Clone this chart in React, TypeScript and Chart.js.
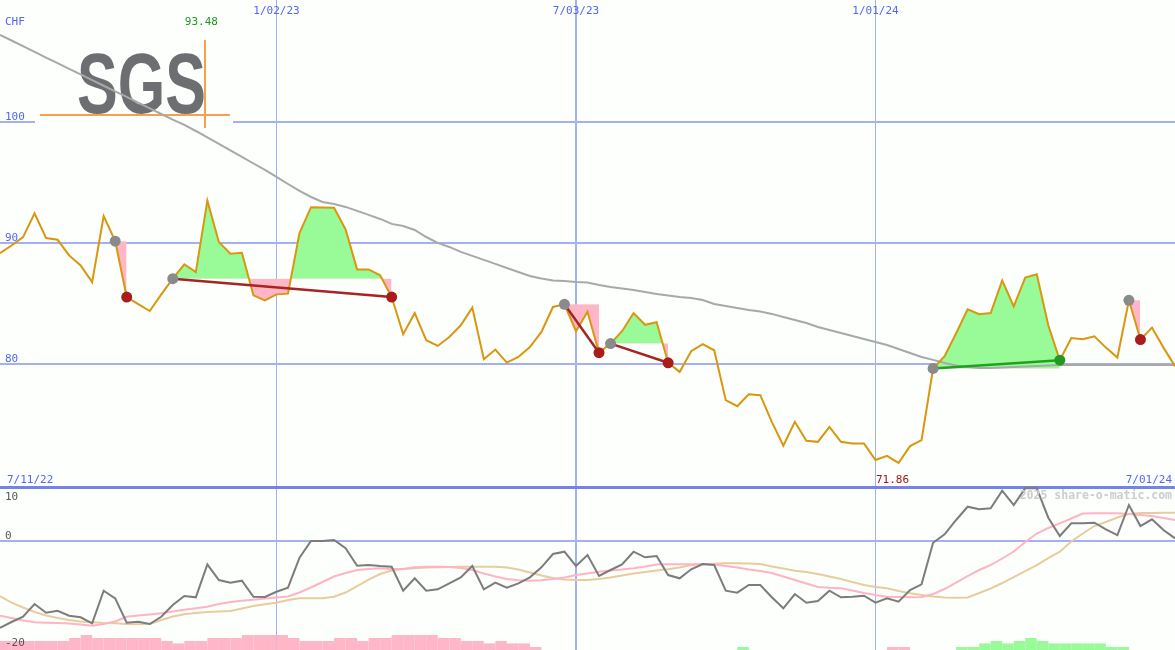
import { useEffect, useRef } from 'react';
import { Chart, registerables } from 'chart.js';

Chart.register(...registerables);

// ---------- data ----------
const dateTicks = [24, 50, 76];
const dateLabels = ['1/02/23', '7/03/23', '1/01/24'];
const startLabel = '7/11/22';
const endLabel = '7/01/24';
const priceTicks = [80, 90, 100];
const oscTicks = [10, 0, -20];
const currency = 'CHF';
const watermark = '2025 share-o-matic.com';
const brand = 'SGS';

// weekly closes, index 0..102
const price = [
  89.16, 89.79, 90.48, 92.45, 90.40, 90.26, 88.97, 88.15, 86.77, 92.21,
  90.15, 85.54, 84.96, 84.39, 85.76, 87.05, 88.23, 87.60, 93.48, 90.07,
  89.11, 89.19, 85.68, 85.27, 85.76, 85.82, 90.82, 92.95, 92.92, 92.90,
  91.11, 87.82, 87.82, 87.33, 85.54, 82.47, 84.22, 81.98, 81.51, 82.25,
  83.21, 84.67, 80.41, 81.21, 80.14, 80.60, 81.42, 82.66, 84.72, 84.94,
  82.72, 84.32, 80.95, 81.70, 82.72, 84.22, 83.25, 83.46, 80.12, 79.37,
  81.07, 81.65, 81.15, 77.04, 76.54, 77.53, 77.45, 75.25, 73.28, 75.25,
  73.69, 73.60, 74.84, 73.60, 73.47, 73.47, 72.10, 72.45, 71.86, 73.25,
  73.74, 79.65, 80.66, 82.55, 84.53, 84.12, 84.22, 86.91, 84.77, 87.14,
  87.41, 83.21, 80.33, 82.16, 82.06, 82.30, 81.37, 80.55, 85.27, 82.03,
  83.02, 81.37, 79.84,
];

const movingAvg = [
  107.15, 106.69, 106.22, 105.75, 105.28, 104.82, 104.35, 103.89, 103.43, 102.96,
  102.50, 102.04, 101.57, 101.10, 100.63, 100.16, 99.73, 99.23, 98.70, 98.16,
  97.63, 97.09, 96.55, 96.02, 95.44, 94.86, 94.29, 93.79, 93.38, 93.21,
  92.97, 92.64, 92.31, 91.98, 91.57, 91.40, 91.07, 90.49, 90.00, 89.67,
  89.26, 88.93, 88.60, 88.27, 87.94, 87.61, 87.28, 87.07, 86.91, 86.87,
  86.78, 86.74, 86.54, 86.37, 86.25, 86.12, 85.96, 85.79, 85.67, 85.55,
  85.47, 85.30, 84.97, 84.81, 84.64, 84.48, 84.35, 84.15, 83.90, 83.65,
  83.40, 83.07, 82.82, 82.58, 82.33, 82.08, 81.84, 81.59, 81.26, 80.93,
  80.60, 80.36, 80.11, 79.90, 79.78, 79.70, 79.70, 79.74, 79.78, 79.82,
  79.86, 79.90, 79.94, 79.94, 79.94, 79.94, 79.94, 79.94, 79.94, 79.94,
  79.94, 79.94, 79.94,
];

const oscillator = [
  -16.21, -15.14, -14.15, -11.78, -13.40, -13.03, -13.96, -14.26, -15.38, -9.29,
  -10.71, -15.27, -15.08, -15.51, -14.15, -11.96, -10.28, -10.52, -4.36, -7.29,
  -7.79, -7.42, -10.41, -10.47, -9.48, -8.73, -3.12, 0.0, 0.0, 0.19,
  -1.36, -4.62, -4.49, -4.67, -4.80, -9.29, -6.97, -9.29, -9.03, -7.91,
  -6.79, -4.67, -9.03, -7.79, -8.73, -7.91, -6.79, -4.92, -2.43, -2.00,
  -4.67, -2.62, -6.54, -5.42, -4.36, -2.00, -3.05, -2.80, -6.36, -6.97,
  -5.29, -4.30, -4.49, -9.29, -9.66, -8.22, -8.22, -10.52, -12.58, -9.91,
  -11.53, -11.21, -9.29, -10.52, -10.41, -10.22, -11.53, -10.71, -11.35, -9.16,
  -8.09, -0.32, 1.25, 3.93, 6.41, 5.93, 6.11, 9.40, 6.73, 9.85,
  9.85, 4.36, 0.93, 3.31, 3.31, 3.42, 2.19, 1.12, 6.73, 2.80,
  4.06, 2.06, 0.50,
];

const signalFast = [
  -13.96, -14.39, -14.86, -15.20, -15.27, -15.33, -15.42, -15.61, -15.83, -15.51,
  -15.05, -14.15, -13.93, -13.74, -13.51, -13.18, -12.86, -12.58, -12.28, -11.78,
  -11.40, -11.16, -10.97, -10.75, -10.56, -10.37, -9.63, -8.69, -7.66, -6.64,
  -5.98, -5.42, -5.23, -5.10, -5.23, -5.23, -4.92, -4.80, -4.80, -4.86,
  -5.05, -5.42, -6.07, -6.64, -7.10, -7.35, -7.42, -7.35, -7.10, -6.82,
  -6.36, -6.07, -5.74, -5.51, -5.33, -5.10, -4.77, -4.39, -4.36, -4.36,
  -4.36, -4.36, -4.39, -4.67, -4.95, -5.33, -5.61, -5.98, -6.64, -7.29,
  -7.94, -8.60, -8.75, -8.84, -9.25, -9.72, -10.09, -10.41, -10.47, -10.52,
  -10.47, -9.91, -8.97, -7.76, -6.54, -5.42, -4.49, -3.27, -1.96, -0.19,
  1.40, 2.43, 3.31, 4.21, 5.14, 5.18, 5.18, 5.18, 5.05, 4.86,
  4.67, 4.30, 3.93,
];

const signalSlow = [
  -10.28, -11.50, -12.43, -13.27, -13.93, -14.39, -14.77, -15.05, -15.20, -15.33,
  -15.38, -15.51, -15.57, -15.51, -14.77, -14.11, -13.70, -13.46, -13.27, -13.18,
  -13.08, -12.62, -12.15, -11.83, -11.53, -11.03, -10.71, -10.71, -10.71, -10.41,
  -9.63, -8.41, -7.20, -6.17, -5.51, -5.23, -5.10, -4.95, -4.92, -4.86,
  -4.80, -4.80, -4.80, -4.80, -4.95, -5.33, -5.89, -6.45, -6.92, -7.20,
  -7.29, -7.29, -7.10, -6.82, -6.45, -6.07, -5.79, -5.51, -5.29, -4.95,
  -4.49, -4.36, -4.24, -4.17, -4.17, -4.21, -4.30, -4.77, -5.14, -5.55,
  -5.79, -6.17, -6.64, -7.10, -7.66, -8.22, -8.60, -8.84, -9.35, -9.78,
  -10.09, -10.37, -10.56, -10.60, -10.56, -9.72, -8.88, -7.85, -6.73, -5.61,
  -4.49, -3.18, -2.00, -0.09, 1.40, 2.80, 3.55, 4.39, 5.05, 5.23,
  5.23, 5.29, 5.29,
];

// histogram strength per week (negative = pink, positive = green)
const histogram = [
  -3, -3, -3, -3, -3, -3, -4, -5, -4, -4,
  -4, -4, -4, -4, -3, -2.2, -3, -3, -4, -4,
  -4, -5, -5, -5, -5, -4, -3, -3, -3, -4,
  -4, -3, -4, -4, -5, -5, -5, -5, -4, -4,
  -3, -3, -2.2, -3, -2.2, -2.2, -1, 0, 0, 0,
  0, 0, 0, 0, 0, 0, 0, 0, 0, 0,
  0, 0, 0, 0, 1, 0, 0, 0, 0, 0,
  0, 0, 0, 0, 0, 0, 0, -1, -1, 0,
  0, 0, 0, 1, 1, 2.2, 3, 2.2, 3, 4,
  3, 2.2, 2.2, 2.2, 2.2, 2.2, 1, 1, 0, 0,
  0, 0, 0,
];

const swingFrom = [10, 15, 49, 53, 81, 98];
const swingTo = [11, 34, 52, 58, 92, 99];

// ---------- styling ----------
const BG = '#fcfffc';
const GRID = '#a3b0f2';
const SEP = '#7482ea';
const LABEL_BLUE = '#5566f2';
const GREEN_FILL = '#98fb98';
const PINK_FILL = '#ffb6c6';
const PRICE_COLOR = '#d9960f';
const MA_COLOR = '#a8a8a8';
const RED = '#a81c1c';
const GREEN = '#229a22';

// axis geometry
const TOP_MAX = 110.03;
const TOP_MIN = 56.44;
const OSC_MAX = 101.12;
const OSC_MIN = -20.37;
const OSC_SEP = 10.09;
const HIST_MAX = 650 / 3;
const PANEL_SPLIT = 487;

const pts = (arr: number[]) => arr.map((v, i) => ({ x: i, y: v }));
const topClip = { left: 2, right: 2, top: 2, bottom: -(650 - PANEL_SPLIT) };
const botClip = { left: 2, right: 2, top: -PANEL_SPLIT, bottom: 2 };

function buildDatasets() {
  const ds: any[] = [];
  // swing fills
  swingFrom.forEach((f, k) => {
    const t = swingTo[k];
    ds.push({
      type: 'line',
      data: price.slice(f, t + 1).map((v, j) => ({ x: f + j, y: v })),
      borderWidth: 0,
      pointRadius: 0,
      tension: 0,
      fill: { target: { value: price[f] }, above: GREEN_FILL, below: PINK_FILL },
      backgroundColor: GREEN_FILL,
      clip: topClip,
      order: 9,
    });
  });
  ds.push({
    type: 'line', data: pts(movingAvg), borderColor: MA_COLOR, borderWidth: 2,
    pointRadius: 0, fill: false, tension: 0, clip: topClip, order: 8,
  });
  ds.push({
    type: 'line', data: pts(price), borderColor: PRICE_COLOR, borderWidth: 2,
    pointRadius: 0, fill: false, tension: 0, clip: topClip, order: 7,
  });
  // trend lines
  swingFrom.forEach((f, k) => {
    const t = swingTo[k];
    if (t - f < 2) return;
    ds.push({
      type: 'line',
      data: [{ x: f, y: price[f] }, { x: t, y: price[t] }],
      borderColor: price[t] < price[f] ? '#a52525' : '#22a022',
      borderWidth: 2.5, pointRadius: 0, fill: false, clip: topClip, order: 6,
    });
  });
  // dots
  ds.push({
    type: 'line', showLine: false, data: swingFrom.map((i) => ({ x: i, y: price[i] })),
    pointRadius: 5.5, pointBorderWidth: 0, pointBackgroundColor: '#8a8a8a', clip: topClip, order: 5,
  });
  ds.push({
    type: 'line', showLine: false, data: swingTo.map((i) => ({ x: i, y: price[i] })),
    pointRadius: 5.5, pointBorderWidth: 0,
    pointBackgroundColor: swingTo.map((t, k) => (price[t] < price[swingFrom[k]] ? RED : GREEN)),
    clip: topClip, order: 4,
  });
  // lower panel
  ds.push({
    type: 'bar', yAxisID: 'yh',
    data: histogram.map((v, i) => ({ x: i + 0.5, y: v === 0 ? null : Math.abs(v) })),
    backgroundColor: histogram.map((v) => (v < 0 ? PINK_FILL : GREEN_FILL)),
    borderWidth: 0, barPercentage: 1, categoryPercentage: 1, inflateAmount: 0,
    clip: botClip, order: 20,
  });
  ds.push({
    type: 'line', yAxisID: 'y2', data: pts(signalSlow), borderColor: '#e6cd9e', borderWidth: 2,
    pointRadius: 0, fill: false, tension: 0, clip: botClip, order: 12,
  });
  ds.push({
    type: 'line', yAxisID: 'y2', data: pts(signalFast), borderColor: '#ffb3c3', borderWidth: 2,
    pointRadius: 0, fill: false, tension: 0, clip: botClip, order: 11,
  });
  ds.push({
    type: 'line', yAxisID: 'y2', data: pts(oscillator), borderColor: '#7c7c7c', borderWidth: 2,
    pointRadius: 0, fill: false, tension: 0, clip: botClip, order: 10,
  });
  return ds;
}

const MONO = '"DejaVu Sans Mono", "Liberation Mono", monospace';

const overlayPlugin = {
  id: 'overlay',
  beforeDatasetsDraw(chart: any) {
    const ctx = chart.ctx;
    ctx.save();
    ctx.fillStyle = BG;
    ctx.fillRect(35, 38, 198, 92);
    ctx.fillStyle = '#6d6e71';
    ctx.font = 'bold 86px "Liberation Sans", Arial, sans-serif';
    ctx.textBaseline = 'alphabetic';
    ctx.textAlign = 'left';
    ctx.fillText(brand, 77, 113, 129);
    ctx.strokeStyle = '#f6a04c';
    ctx.lineWidth = 2;
    ctx.beginPath();
    ctx.moveTo(40, 115);
    ctx.lineTo(230, 115);
    ctx.moveTo(205, 40);
    ctx.lineTo(205, 128);
    ctx.stroke();
    ctx.restore();
  },
  afterDraw(chart: any) {
    const { ctx } = chart;
    const { x, y, y2 } = chart.scales;
    ctx.save();
    ctx.font = '11px ' + MONO;
    ctx.textBaseline = 'alphabetic';
    ctx.fillStyle = LABEL_BLUE;
    ctx.textAlign = 'left';
    ctx.fillText(currency, 5, 25);
    priceTicks.forEach((v) => ctx.fillText(String(v), 5, y.getPixelForValue(v) - 2));
    ctx.textAlign = 'center';
    dateTicks.forEach((t, k) => ctx.fillText(dateLabels[k], x.getPixelForValue(t), 14));
    ctx.textAlign = 'left';
    ctx.fillText(startLabel, 7, 483);
    ctx.textAlign = 'right';
    ctx.fillText(endLabel, 1172, 483);

    // extremes
    let hi = 0;
    let lo = 0;
    price.forEach((v, i) => {
      if (v > price[hi]) hi = i;
      if (v < price[lo]) lo = i;
    });
    ctx.textAlign = 'center';
    ctx.fillStyle = '#1f9a1f';
    ctx.fillText(price[hi].toFixed(2), x.getPixelForValue(hi) - 6, 25);
    ctx.fillStyle = '#a01515';
    ctx.fillText(price[lo].toFixed(2), x.getPixelForValue(lo) - 6, 483);

    // lower panel labels
    ctx.fillStyle = '#555555';
    ctx.textAlign = 'left';
    oscTicks.forEach((v) => {
      const p = Math.max(y2.getPixelForValue(v) - 2, PANEL_SPLIT + 13);
      ctx.fillText(String(v), 5, p);
    });
    ctx.font = 'bold 11.5px ' + MONO;
    ctx.fillStyle = '#cdcdcd';
    ctx.textAlign = 'right';
    ctx.fillText(watermark, 1172, 499);
    ctx.restore();
  },
};

export default function App() {
  const ref = useRef<HTMLCanvasElement>(null);
  useEffect(() => {
    const hidden = { display: false };
    const chart = new Chart(ref.current as HTMLCanvasElement, {
      type: 'line',
      data: { datasets: buildDatasets() },
      options: {
        animation: false,
        responsive: false,
        events: [],
        layout: { padding: 0, autoPadding: false },
        plugins: { legend: hidden, tooltip: { enabled: false } },
        scales: {
          x: {
            type: 'linear', min: 0, max: price.length - 1, offset: false,
            ticks: { display: false }, border: hidden,
            grid: {
              offset: false, drawTicks: false, color: GRID,
              lineWidth: (c: any) => (c.tick && c.tick.value === dateTicks[1] ? 2 : 1),
            },
            afterBuildTicks: (s: any) => { s.ticks = dateTicks.map((v) => ({ value: v })); },
          },
          y: {
            type: 'linear', position: 'left', min: TOP_MIN, max: TOP_MAX,
            ticks: { display: false }, border: hidden,
            grid: { offset: false, drawTicks: false, color: GRID, lineWidth: 2 },
            afterBuildTicks: (s: any) => { s.ticks = priceTicks.map((v) => ({ value: v })); },
          },
          y2: {
            type: 'linear', position: 'left', min: OSC_MIN, max: OSC_MAX,
            ticks: { display: false }, border: hidden,
            grid: {
              offset: false, drawTicks: false,
              color: (c: any) => (c.tick && c.tick.value === OSC_SEP ? SEP : GRID),
              lineWidth: (c: any) => (c.tick && c.tick.value === OSC_SEP ? 3 : 2),
            },
            afterBuildTicks: (s: any) => { s.ticks = [OSC_SEP, 0].map((v) => ({ value: v })); },
          },
          yh: { type: 'linear', display: false, min: 0, max: HIST_MAX },
        },
      } as any,
      plugins: [overlayPlugin],
    } as any);
    return () => chart.destroy();
  }, []);
  return (
    <div style={{ position: 'absolute', left: 0, top: 0, width: 1175, height: 650, background: BG }}>
      <canvas ref={ref} width={1175} height={650} style={{ display: 'block' }} />
    </div>
  );
}
